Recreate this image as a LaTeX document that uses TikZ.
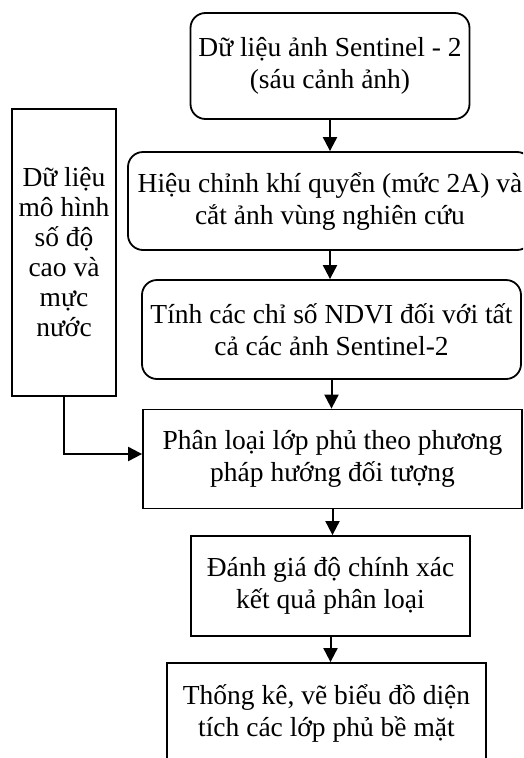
\documentclass[tikz,border=0pt]{standalone}
\usepackage{fontspec}
\setmainfont{Liberation Serif}
\usetikzlibrary{arrows.meta,positioning}

\begin{document}
\begin{tikzpicture}[x=1pt,y=-1pt,
  every node/.style={font=\fontsize{27.5}{32}\selectfont, align=center, inner sep=0pt},
  box/.style={draw, line width=1.8pt},
  rbox/.style={box, rounded corners=15pt},
  arr/.style={line width=2pt, -{Triangle[length=14pt,width=14pt]}}]
\clip (0,0) rectangle (523,758);
\useasboundingbox (0,0) rectangle (523,758);
% main chain
\node [rbox, minimum width=279pt, minimum height=106pt] (anh) at (330,66)
  {Dữ liệu ảnh Sentinel - 2\\(sáu cảnh ảnh)};
\node [rbox, minimum width=404pt, minimum height=98pt] (hieuchinh) at (330,201)
  {Hiệu chỉnh khí quyển (mức 2A) và\\cắt ảnh vùng nghiên cứu};
\node [rbox, minimum width=379pt, minimum height=99pt] (ndvi) at (331.5,329.5)
  {Tính các chỉ số NDVI đối với tất\\cả các ảnh Sentinel-2};
\node [box, minimum width=379pt, minimum height=99pt] (phanloai) at (332.5,459)
  {Phân loại lớp phủ theo phương\\pháp hướng đối tượng};
\node [box, minimum width=279pt, minimum height=100pt] (danhgia) at (330.5,586)
  {Đánh giá độ chính xác\\kết quả phân loại};
\node [box, minimum width=319pt, minimum height=100pt] (thongke) at (326.5,713)
  {Thống kê, vẽ biểu đồ diện\\tích các lớp phủ bề mặt};
% side input
\node [box, minimum width=104pt, minimum height=287pt,
  font=\fontsize{27.5}{30}\selectfont] (dem) at (64,252.5)
  {Dữ liệu\\mô hình\\số độ\\cao và\\mực\\nước};
\draw [arr] (anh) -- (anh |- hieuchinh.north);
\draw [arr] (hieuchinh) -- (hieuchinh |- ndvi.north);
\draw [arr] (ndvi) -- (ndvi |- phanloai.north);
\draw [arr] (phanloai) -- (phanloai |- danhgia.north);
\draw [arr] (danhgia) -- (danhgia |- thongke.north);
\draw [arr] (dem.south) |- ([yshift=5pt]phanloai.west);
\end{tikzpicture}
\end{document}
